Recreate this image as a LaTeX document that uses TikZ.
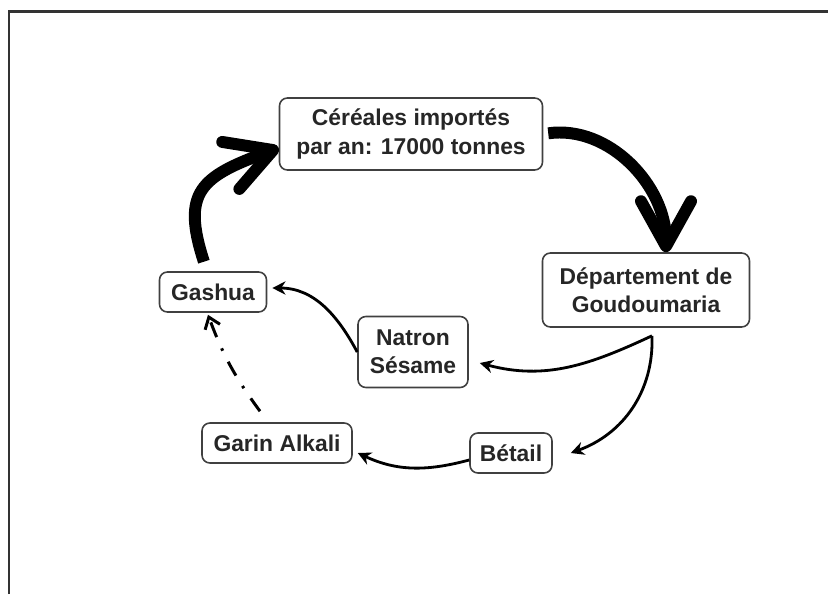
\documentclass[tikz,border=0pt]{standalone}
\usepackage{fontspec}
\setmainfont{Liberation Sans}
\usetikzlibrary{arrows.meta}

\begin{document}
\begin{tikzpicture}[
    lieu/.style={draw=black!75, line width=0.9pt, rounded corners=4.5pt, fill=white,
        font=\fontsize{13}{16}\selectfont\bfseries, text=black!85, align=center, inner sep=0pt},
    gros/.style={line width=6.8pt, -{Straight Barb[length=0.9cm, width=1.0cm, round]}},
    fin/.style={line width=1.6pt, -{Stealth[length=7.5pt, width=7.5pt]}}
]
    \useasboundingbox (0,0) rectangle (16.56,-11.88);
    \draw[line width=1.2pt, black!80] (0.18,-11.88) -- (0.18,-0.23) -- (16.56,-0.23);

    % Lieux
    \node[lieu, minimum width=5.26cm, minimum height=1.44cm] (cereales) at (8.22,-2.68)
        {Céréales importés\\par an: 17000 tonnes};
    \node[lieu, minimum width=4.14cm, minimum height=1.48cm] (depart) at (12.92,-5.80)
        {Département de\\Goudoumaria};
    \node[lieu, minimum width=2.14cm, minimum height=0.8cm] (gashua) at (4.26,-5.84) {Gashua};
    \node[lieu, minimum width=2.2cm, minimum height=1.42cm] (natron) at (8.26,-7.04)
        {Natron\\Sésame};
    \node[lieu, minimum width=3.0cm, minimum height=0.8cm] (garin) at (5.54,-8.86) {Garin Alkali};
    \node[lieu, minimum width=1.64cm, minimum height=0.8cm] (betail) at (10.22,-9.06) {Bétail};

    % Flux des céréales
    \draw[gros, shorten <=0.1cm] (cereales.east) to[out=8, in=90] ([xshift=0.4cm]depart.north);
    \draw[gros, shorten <=0.2cm] ([xshift=-0.12cm]gashua.north)
        to[out=108, in=200, looseness=1.5] ([yshift=-0.28cm]cereales.west);

    % Flux vers le Nigeria
    \coordinate (fourche) at ([xshift=0.12cm, yshift=-0.16cm]depart.south);
    \draw[fin] (fourche) to[out=205, in=-15] ([xshift=0.22cm, yshift=-0.22cm]natron.east);
    \draw[fin] (fourche) to[out=-88, in=20] ([xshift=0.36cm]betail.east);
    \draw[fin] ([yshift=-0.14cm]betail.west) to[out=195, in=-25] ([xshift=0.1cm, yshift=-0.2cm]garin.east);
    \draw[fin] (natron.west) to[out=118, in=0] ([xshift=0.1cm, yshift=0.08cm]gashua.east);
    \draw[line width=1.7pt, dash pattern=on 9pt off 7pt on 1.5pt off 7pt,
        -{Straight Barb[length=6pt, width=9pt]}]
        ([xshift=-0.34cm, yshift=0.22cm]garin.north) to[bend left=8] ([xshift=-0.1cm, yshift=-0.04cm]gashua.south);
\end{tikzpicture}
\end{document}
